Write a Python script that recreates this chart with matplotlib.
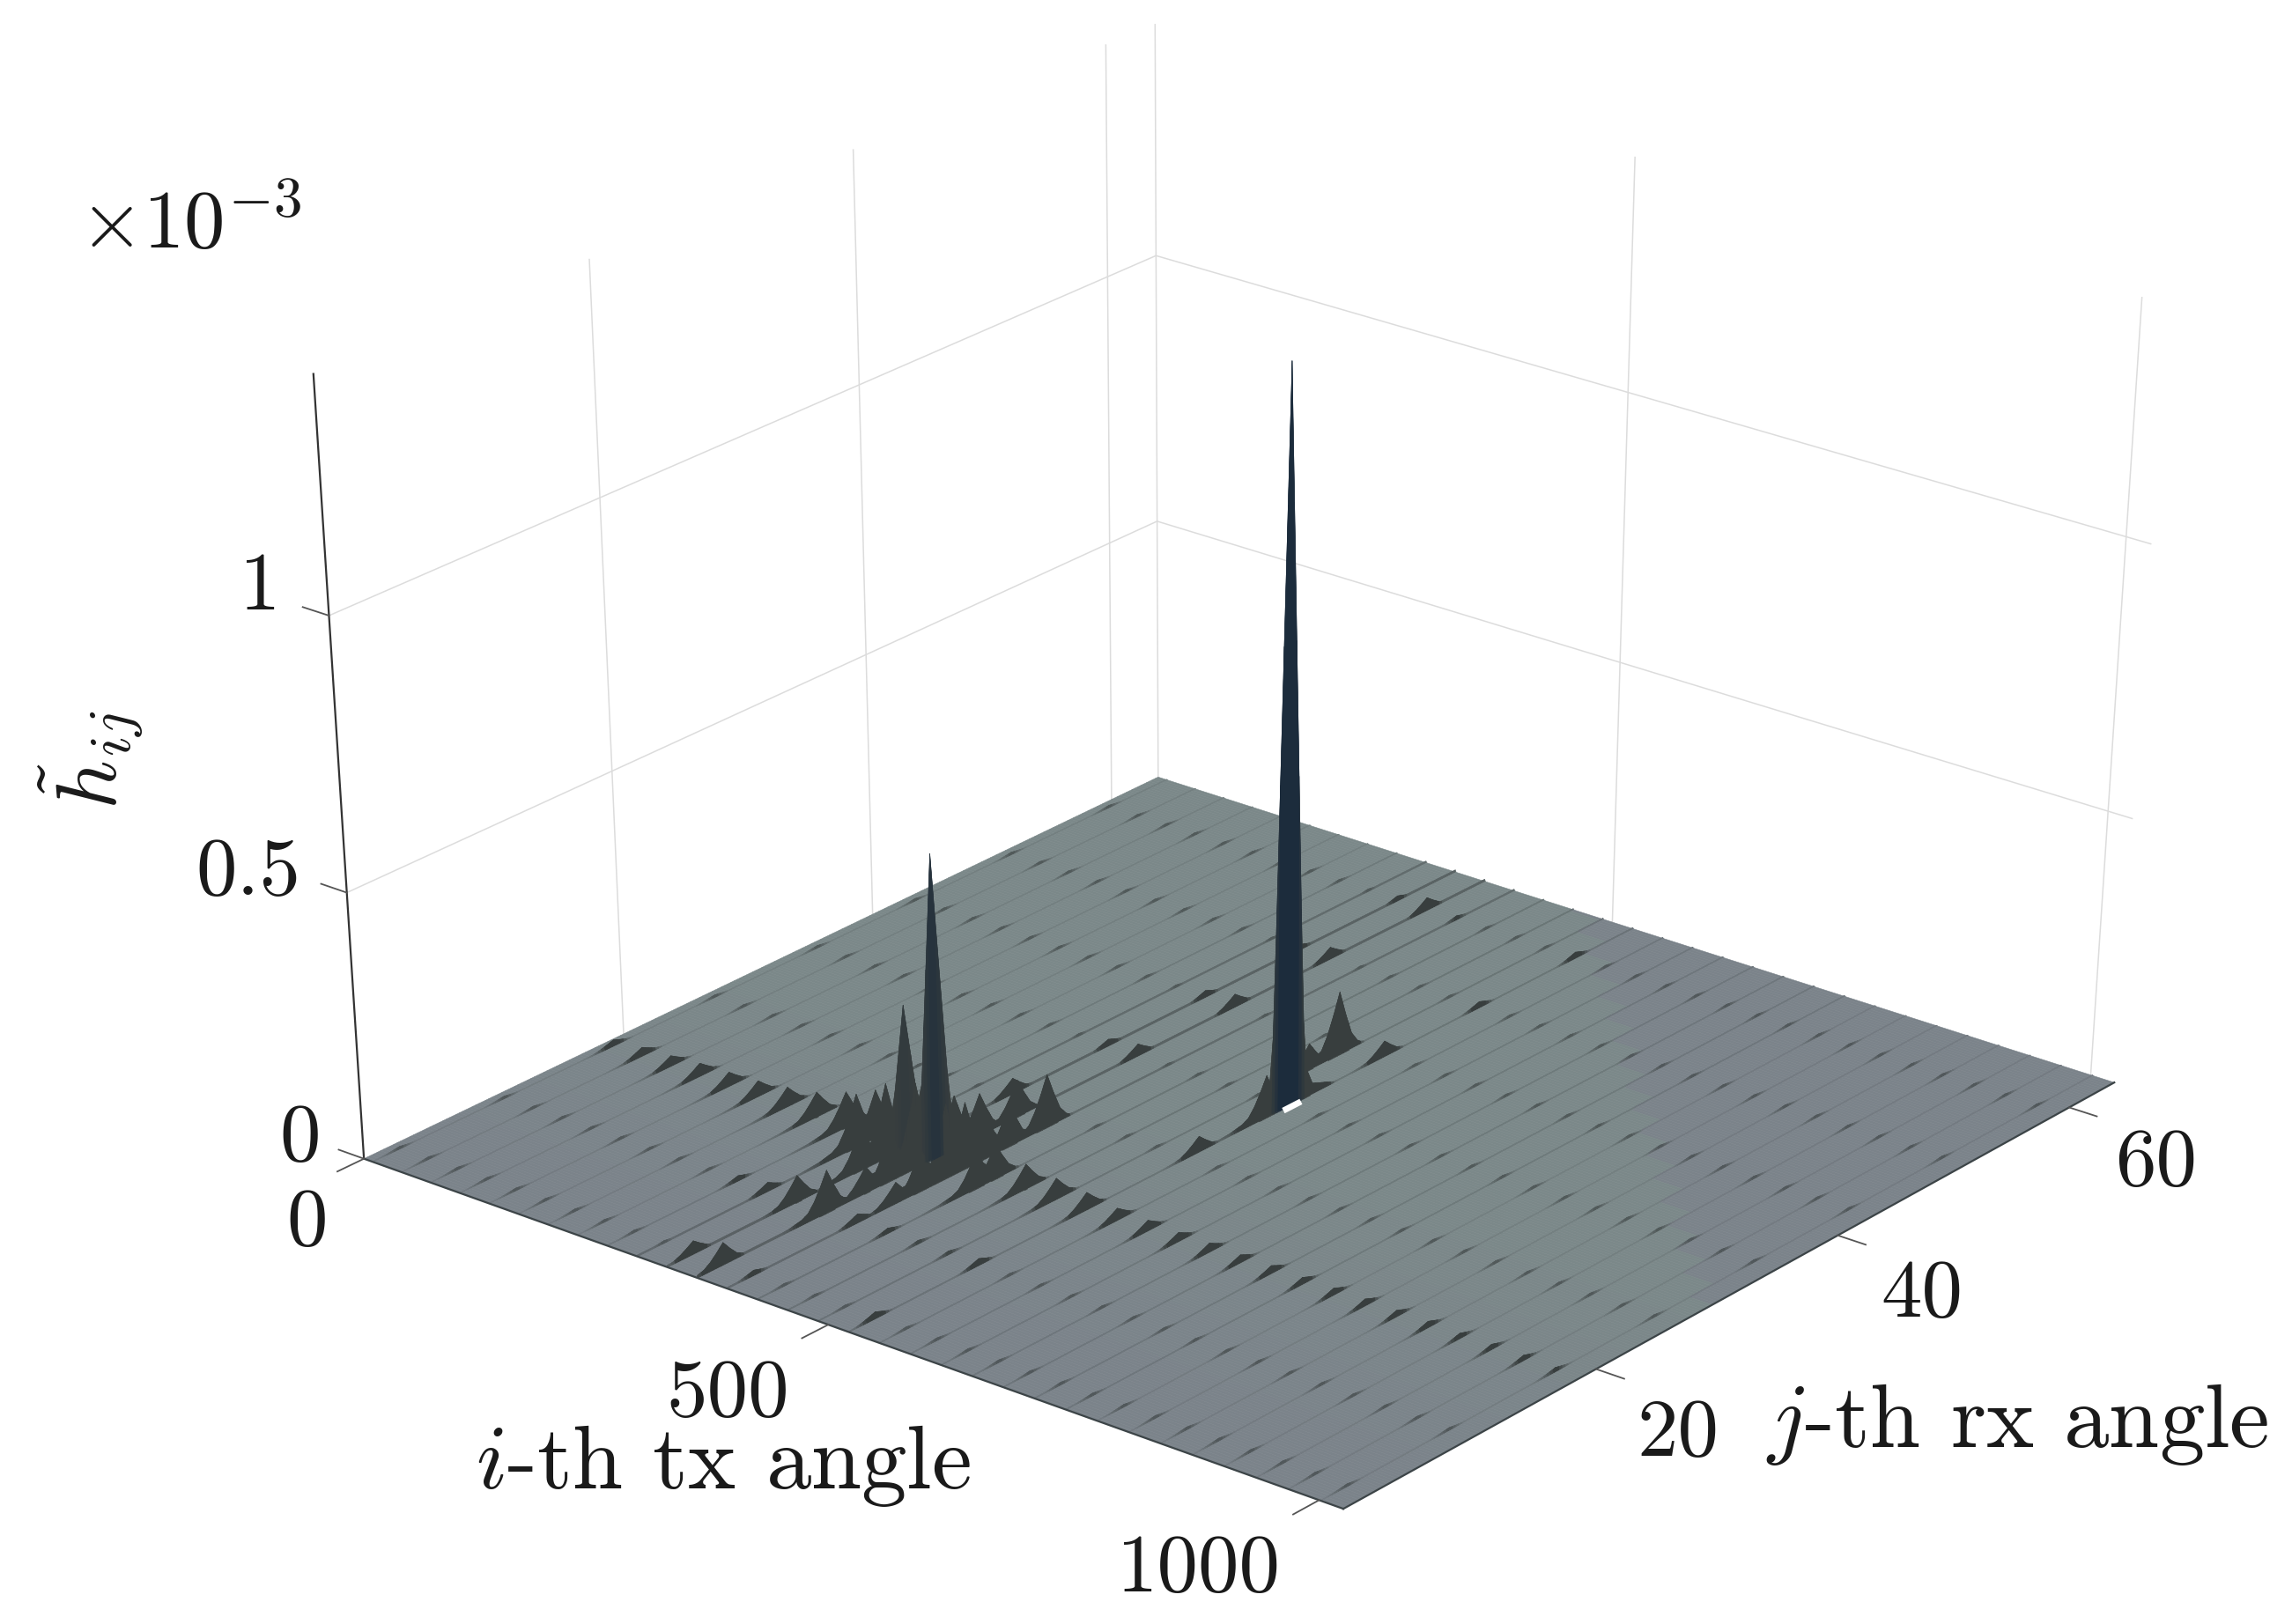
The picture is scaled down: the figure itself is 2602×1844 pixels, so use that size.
import matplotlib
matplotlib.use("Agg")
import matplotlib.pyplot as plt
import numpy as np
from matplotlib.transforms import Bbox

plt.rcParams['font.family'] = ['cmr10', 'DejaVu Sans']
plt.rcParams['mathtext.fontset'] = 'cm'
plt.rcParams['axes.formatter.use_mathtext'] = True

TICK_SIZE = 67
LABEL_SIZE = 74
S = 2602 / 1568
W, H = 2602, 1844
I_MAX, J_MAX, ZMAX = 1024, 64, 1.42
DARK = np.array([56, 62, 62]) / 255
NAVY = np.array([28, 44, 60]) / 255
GRAY = np.array([123, 131, 138]) / 255
GREEN = np.array([123, 136, 137]) / 255

# ridge position along i, and bump rows along j
ridge_i = [10 + 32 * k for k in range(32)]
row_j = [2, 10, 18.5, 26.5, 34.75, 42.75, 50.75, 59]

# bump height per ridge (lines) and row (columns), in units of 1e-3
d = 0.005
bumps = [
    [d, d, .012, d, d, d, d, d],
    [d, d, .017, d, d, d, d, d],
    [d, d, .020, d, d, d, d, d],
    [d, d, .025, d, d, d, d, d],
    [d, d, .027, d, d, d, d, d],
    [d, d, .030, d, d, d, d, d],
    [d, d, .037, d, d, d, d, d],
    [d, d, .047, d, d, d, d, d],
    [d, .010, .067, d, d, d, d, d],
    [d, .017, .090, d, d, d, d, d],
    [.025, .050, .270, d, .013, .013, .010, .010],
    [.042, .080, .570, d, .023, .025, .023, .025],
    [.010, .017, .125, d, d, d, d, .008],
    [d, .010, .065, d, d, d, d, d],
    [d, .007, .047, d, d, d, d, d],
    [d, .007, .040, d, d, d, d, d],
    [.013, .013, .033, d, 1.36, .030, .012, .012],
    [d, d, .023, d, d, d, d, d],
    [d, d, .020, d, d, d, d, d],
    [d, d, .017, d, d, d, d, d],
    [d, d, .017, d, d, d, d, d],
    [d, d, .015, d, d, d, d, d],
    [d, d, .015, d, d, d, d, d],
    [d, d, .013, d, d, d, d, d],
    [d, d, .013, d, d, d, d, d],
    [d, d, .013, d, d, d, d, d],
    [d, d, .012, d, d, d, d, d],
    [d, d, .012, d, d, d, d, d],
    [d, d, .010, d, d, d, d, d],
    [d, d, .010, d, d, d, d, d],
    [d, d, .010, d, d, d, d, d],
    [d, d, .008, d, d, d, d, d],
]
# bumps off the rows: ridge, j, height
extra_bumps = [(11, 25, .07), (12, 25, .10), (10, 27, .03), (15, 41.5, .12), (16, 27.5, .03),
               (16, 33, .08), (15, 39, .05), (15, 37, .03),
               (9, 17, .10), (10, 17, .14), (11, 17, .16), (12, 17, .14), (13, 17, .07),
               (10, 15, .08), (11, 15, .10), (12, 15, .08),
               (11, 13, .05), (12, 13, .04),
               (10, 20, .08), (11, 20, .10), (12, 20, .10), (11, 22, .08), (12, 22, .08)]
# height kept along each whole ridge
ridge_level = [.001] * 8 + [.0015, .003, .004, .004, .003, .002, .002, .002, .002] + [.0015] * 7 + [.001] * 8

# bump profiles along j, long tail towards low j
shape_offset = [-8, -5, -3, -2, -1.5, -1, -.5, 0, .5, 1, 1.5, 2]
shape_value = [0, .02, .06, .12, .2, .4, .68, 1, .6, .25, .08, 0]
tall_offset = [-4, -2, -1.5, -1.2, 0, 1.2, 1.5, 2, 4]
tall_value = [0, .015, .04, .12, 1, .12, .04, .015, 0]

# where box points lie in the picture, for the camera: (i, j, z) and pixels
cam_world = [(0, 0, 0), (1024, 0, 0), (1024, 64, 0), (0, 64, 0), (1000, 0, 0), (500, 0, 0), (1024, 20, 0),
             (1024, 40, 0), (1024, 60, 0), (1000, 64, 0), (0, 64, 1.42), (0, 0, 1.42), (1000, 64, 1.42),
             (500, 64, 1.42), (0, 0, 1), (0, 64, 1), (1024, 64, 1), (0, 64, .5), (1024, 64, .5), (0, 0, .5),
             (0, 20, 0), (0, 40, 0), (0, 60, 0), (500, 64, 0), (0, 20, 1.42), (0, 40, 1.42), (0, 60, 1.42)]
cam_pixel = [(420, 1316), (1528, 1713), (2397, 1229), (1323, 884), (1505, 1707), (948, 1508), (1801, 1559),
             (2081, 1405), (2345, 1258), (2379, 1220), (1316, 33), (355, 425), (2436, 340),
             (1859, 183), (373, 689), (1316, 285), (2439, 606), (1316, 589), (2420, 926), (398, 1004),
             (700, 1178), (982, 1037), (1256, 909), (1834, 1045), (659, 299), (964, 174), (1256, 55)]


def camera_matrix():
    # least squares projective camera from the box points
    w = np.array(cam_world, float) / [I_MAX, J_MAX, ZMAX]
    p = np.array(cam_pixel, float) / 2000
    rows = []
    for (x, y, z), (u, v) in zip(w, p):
        rows.append([x, y, z, 1, 0, 0, 0, 0, -u * x, -u * y, -u * z, -u])
        rows.append([0, 0, 0, 0, x, y, z, 1, -v * x, -v * y, -v * z, -v])
    P = np.linalg.svd(np.array(rows))[2][-1].reshape(3, 4)
    P = P @ np.diag([1 / I_MAX, 1 / J_MAX, 1 / ZMAX, 1])
    # back to figure pixels (y up), then to the axes' own 2D coordinates
    P[:2] *= 2000
    P = np.array([[1, 0, 0], [0, -1, H], [0, 0, 1]]) @ P
    P = ax.transData.inverted().get_matrix() @ P
    if (P[2] @ [512, 32, 0, 1]) < 0:
        P = -P
    P = P / (P[2] @ [512, 32, 0, 1])
    # depth grows with the distance from the camera and stays negative
    return np.vstack([P[0], P[1], P[2] - [0, 0, 0, 2], P[2]])


j_grid = np.arange(0, 64.01, 0.25)
i_grid = [0.0]
for r in ridge_i:
    i_grid += [r - 1, r, r + 1]
i_grid.append(1024.0)
i_grid = np.array(i_grid)


def profile(h, j0):
    if h > 0.2:
        return h * np.interp(j_grid - j0, tall_offset, tall_value)
    return h * np.interp(j_grid - j0, shape_offset, shape_value)


Z = np.zeros((len(j_grid), len(i_grid)))
for k, r in enumerate(ridge_i):
    col = np.full(len(j_grid), ridge_level[k])
    for j0, h in zip(row_j, bumps[k]):
        col = np.maximum(col, profile(h, j0))
    for ek, j0, h in extra_bumps:
        if ek == k:
            col = np.maximum(col, profile(h, j0))
    Z[:, 3 * k + 2] = col

X, Y = np.meshgrid(i_grid, j_grid)

# colours: floor shade, then dark with height, navy on the tall spikes
g = np.clip((Y - 5) / 25, 0, 1) * (X + 15.9 * Y < 1470)
floor = GRAY + g[..., None] * (GREEN - GRAY)
zcell = Z.copy()
zcell[:-1, :-1] = np.maximum.reduce([Z[:-1, :-1], Z[1:, :-1], Z[:-1, 1:], Z[1:, 1:]])
t = np.clip(zcell / 0.008, 0, 1)[..., None]
tall = np.clip((zcell - 0.15) / 0.7, 0, 1)[..., None]
spike = DARK + tall * (NAVY - DARK)
fc = floor + t * (spike - floor)
fc = np.dstack([fc, np.ones(Z.shape)])

fig = plt.figure(figsize=(26.02, 18.44), dpi=100)
ax = fig.add_axes([0, 0, 1, 1], projection='3d', computed_zorder=False)
ax.apply_aspect = lambda position=None: ax._set_position(Bbox.from_bounds(0, 0, 1, 1), 'active')
ax.apply_aspect()
M = camera_matrix()
ax.get_proj = lambda: M
ax.set_axis_off()

GRID = dict(color='#dcdcdc', lw=1.1, zorder=1)
for z in [0.5, 1]:
    ax.plot([0, 0], [0, J_MAX], [z, z], **GRID)
    ax.plot([0, I_MAX], [J_MAX, J_MAX], [z, z], **GRID)
for j in [20, 40, 60]:
    ax.plot([0, 0], [j, j], [0, ZMAX], **GRID)
for i in [0, 500, 1000]:
    ax.plot([i, i], [J_MAX, J_MAX], [0, ZMAX], **GRID)

ax.plot_surface(X, Y, Z, facecolors=fc, rstride=1, cstride=1, shade=False, linewidth=0.4, zorder=2)

# white fleck at the foot of the big spike
ax.plot([527, 527], [34.2, 35.2], [0.004, 0.004], color='white', lw=5, zorder=3)

EDGE = dict(color='#3c4447', lw=1.6, zorder=4)
ax.plot([0, I_MAX], [0, 0], [0, 0], **EDGE)
ax.plot([I_MAX, I_MAX], [0, J_MAX], [0, 0], **EDGE)
ax.plot([0, 0], [0, 0], [0, ZMAX], color='#333333', lw=1.6, zorder=4)

TICK = dict(color='#555555', lw=1.3, zorder=4)
for i in [0, 500, 1000]:
    ax.plot([i, i], [0, -2], [0, 0], **TICK)
for j in [20, 40, 60]:
    ax.plot([I_MAX, I_MAX + 28], [j, j], [0, 0], **TICK)
for z in [0, 0.5, 1]:
    ax.plot([0, -28], [0, 0], [z, z], **TICK)

ax.set_xlim(0, I_MAX)
ax.set_ylim(0, J_MAX)
ax.set_zlim(0, ZMAX)
for a in ax.get_children():
    a.set_clip_on(False)


def put(x, y, s, size=TICK_SIZE, **kw):
    # x, y in the shrunk picture coordinates
    fig.text(x * S / W, 1 - y * S / H, s, ha='center', va='center', fontsize=size, color='#1a1a1a', **kw)


put(205, 780, '0')
put(170, 598, '0.5')
put(178, 403, '1')
put(130, 155, r'$\times 10^{-3}$')
put(210, 838, '0')
put(498, 955, '500')
put(820, 1075, '1000')
put(1148, 982, '20')
put(1315, 887, '40')
put(1475, 797, '60')
put(495, 1003, r'$i$-th tx angle', LABEL_SIZE)
put(1380, 975, r'$j$-th rx angle', LABEL_SIZE)
put(62, 520, r'$\tilde{h}_{ij}$', 70, rotation=90)

fig.savefig("out.png", dpi=100)
